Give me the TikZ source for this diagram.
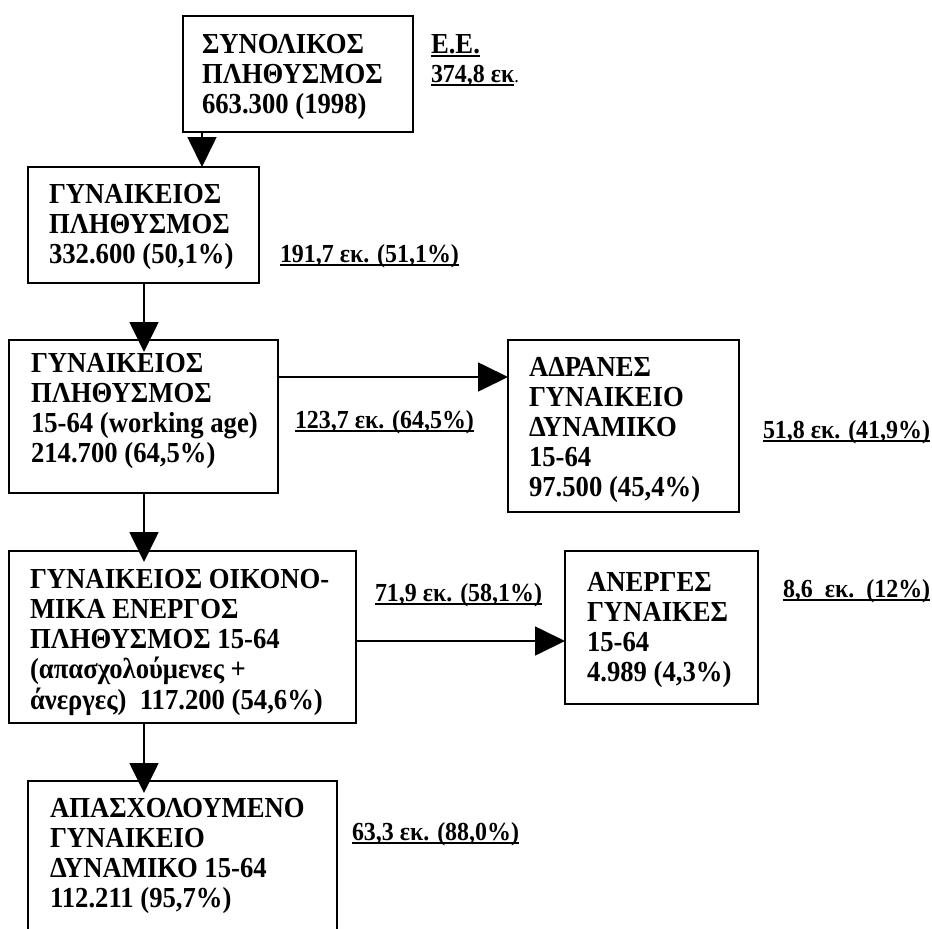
\documentclass[tikz,border=0pt]{standalone}
\usepackage{fontspec}
\setmainfont{Liberation Serif}[FakeStretch=0.92]
\usetikzlibrary{arrows.meta}
\newcommand{\ulx}[1]{\setbox0\hbox{#1}\rlap{\rule[-3.8pt]{\wd0}{2pt}}\box0}
\newcommand{\ml}[1]{\begin{tabular}[t]{@{}l@{}}#1\end{tabular}}
\begin{document}
\begin{tikzpicture}[x=1pt,y=-1pt,
  box/.style={draw, line width=1.7pt, inner sep=0pt, outer sep=0pt, anchor=north west},
  txt/.style={inner sep=0pt, outer sep=0pt, anchor=base west, font=\fontsize{29}{30}\selectfont\bfseries},
  lab/.style={inner sep=0pt, outer sep=0pt, anchor=base west, font=\fontsize{26}{30}\selectfont\bfseries},
  arr/.style={line width=1.7pt, -{Triangle[length=30pt,width=29pt]}}]
\useasboundingbox (0,0) rectangle (932,929);
% boxes
\node[box, minimum width=230pt, minimum height=116pt] (b1) at (183,16) {};
\node[box, minimum width=231pt, minimum height=116pt] (b2) at (28,167) {};
\node[box, minimum width=269pt, minimum height=153pt] (b3) at (9,340) {};
\node[box, minimum width=231pt, minimum height=172pt] (b4) at (508,340) {};
\node[box, minimum width=347pt, minimum height=172pt] (b5) at (9,551) {};
\node[box, minimum width=193pt, minimum height=153pt] (b6) at (565,551) {};
\node[box, minimum width=309pt, minimum height=200pt] (b7) at (28,781) {};
% box texts
\node[txt] (t1) at (202,53) {\ml{ΣΥΝΟΛΙΚΟΣ\\ΠΛΗΘΥΣΜΟΣ\\663.300 (1998)}};
\node[txt] (t2) at (49,203) {\ml{ΓΥΝΑΙΚΕΙΟΣ\\ΠΛΗΘΥΣΜΟΣ\\332.600 (50,1\%)}};
\node[txt] (t3) at (31,372) {\ml{ΓΥΝΑΙΚΕΙΟΣ\\ΠΛΗΘΥΣΜΟΣ\\15-64 (working age)\\214.700 (64,5\%)}};
\node[txt] (t4) at (529,376) {\ml{ΑΔΡΑΝΕΣ\\ΓΥΝΑΙΚΕΙΟ\\ΔΥΝΑΜΙΚΟ\\15-64\\97.500 (45,4\%)}};
\node[txt] (t5) at (30,588) {\ml{ΓΥΝΑΙΚΕΙΟΣ ΟΙΚΟΝΟ-\\ΜΙΚΑ ΕΝΕΡΓΟΣ\\ΠΛΗΘΥΣΜΟΣ 15-64\\(απασχολούμενες +\\άνεργες)\ \ 117.200 (54,6\%)}};
\node[txt] (t6) at (587,591) {\ml{ΑΝΕΡΓΕΣ\\ΓΥΝΑΙΚΕΣ\\15-64\\4.989 (4,3\%)}};
\node[txt] (t7) at (50,817) {\ml{ΑΠΑΣΧΟΛΟΥΜΕΝΟ\\ΓΥΝΑΙΚΕΙΟ\\ΔΥΝΑΜΙΚΟ 15-64\\112.211 (95,7\%)}};
% side labels
\node[txt] (l0) at (431,53) {\ulx{Ε.Ε.}};
\node[lab] (l1) at (431,82) {\ulx{374,8 εκ}{\mdseries\fontsize{20}{24}\selectfont .}};
\node[lab] (l2) at (280,262) {\ulx{191,7 εκ. (51,1\%)}};
\node[lab] (l3) at (295,428) {\ulx{123,7 εκ. (64,5\%)}};
\node[lab] (l4) at (763,438) {\ulx{51,8 εκ. (41,9\%)}};
\node[lab] (l5) at (375,601) {\ulx{71,9 εκ. (58,1\%)}};
\node[lab] (l6) at (783,597) {\ulx{8,6\hspace{12pt}εκ.\hspace{12pt}(12\%)}};
\node[lab] (l7) at (352,840) {\ulx{63,3 εκ. (88,0\%)}};
% connectors
\coordinate (xa) at (202,0);
\coordinate (xb) at (144,0);
\coordinate (ya) at (0,377);
\coordinate (yb) at (0,641);
\draw[arr] (xa |- b1.south) -- (xa |- b2.north);
\draw[arr, shorten >=-12pt] (xb |- b2.south) -- (xb |- b3.north);
\draw[arr] (b3.east |- ya) -- (b4.west |- ya);
\draw[arr, shorten >=-11pt] (xb |- b3.south) -- (xb |- b5.north);
\draw[arr] (b5.east |- yb) -- (b6.west |- yb);
\draw[arr, shorten >=-12pt] (xb |- b5.south) -- (xb |- b7.north);
\end{tikzpicture}
\end{document}
